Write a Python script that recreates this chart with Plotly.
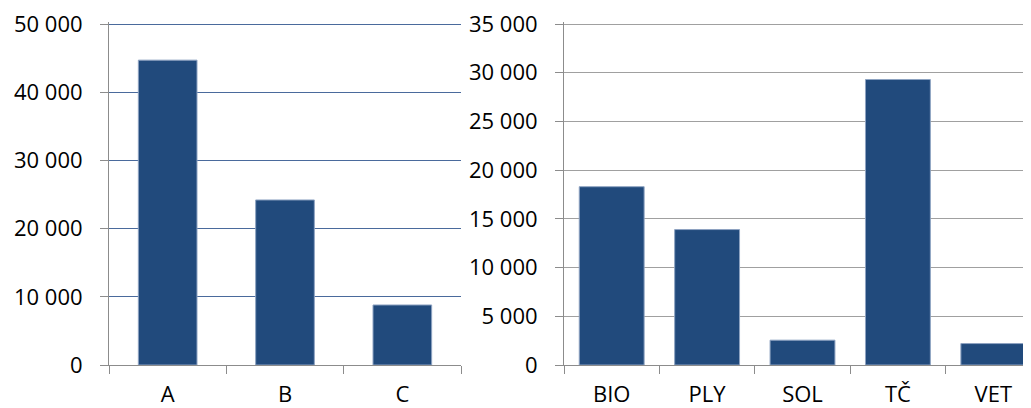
import plotly.graph_objects as go

left_categories = ["A", "B", "C"]
left_values = [44700, 24200, 8800]

right_categories = ["BIO", "PLY", "SOL", "TČ", "VET"]
right_values = [18300, 13900, 2550, 29300, 2200]

BAR = "#214A7C"
EDGE = "#8EA3C2"
GRAY = "#8C8C8C"
BLUE_GRID = "#4A6A9C"
FONT = dict(family="Open Sans", size=22, color="#000000")

fig = go.Figure()
fig.add_trace(go.Bar(x=left_categories, y=left_values, width=0.5,
                     marker=dict(color=BAR, line=dict(color=EDGE, width=1)),
                     xaxis="x", yaxis="y", showlegend=False, hoverinfo="x+y"))
fig.add_trace(go.Bar(x=right_categories, y=right_values, width=0.68,
                     marker=dict(color=BAR, line=dict(color=EDGE, width=1)),
                     xaxis="x2", yaxis="y2", showlegend=False, hoverinfo="x+y"))

# page has an 8px body margin, so the figure is drawn 8px smaller and offset
W, H = 1023, 400
common_x = dict(type="category", tickson="boundaries", ticks="outside", ticklen=8,
                tickcolor=GRAY, tickwidth=1, showline=True, linecolor=GRAY, linewidth=1,
                showgrid=False, zeroline=False, tickfont=FONT, ticklabelstandoff=10)
common_y = dict(ticks="outside", ticklen=8, tickcolor=GRAY, tickwidth=1,
                showline=True, linecolor=GRAY, linewidth=1, zeroline=False,
                tickformat=",d", tickfont=FONT, ticklabelstandoff=13, gridwidth=1,
                ticklabeloverflow="allow")

fig.update_layout(
    width=W, height=H,
    margin=dict(l=0, r=0, t=14, b=43),
    paper_bgcolor="white", plot_bgcolor="white",
    separators=", ",
    font=FONT,
    xaxis=dict(domain=[101 / W, 453 / W], range=[-0.5, 2.5], anchor="y", **common_x),
    yaxis=dict(range=[0, 50293], dtick=10000, anchor="x", showgrid=True,
               gridcolor=BLUE_GRID, **common_y),
    xaxis2=dict(domain=[556 / W, 1.0], range=[-0.5, 4.395], anchor="y2", **common_x),
    yaxis2=dict(range=[0, 35205], dtick=5000, anchor="x2", showgrid=True,
                gridcolor="#A0A0A0", **common_y),
)

fig.write_html("out.html")
